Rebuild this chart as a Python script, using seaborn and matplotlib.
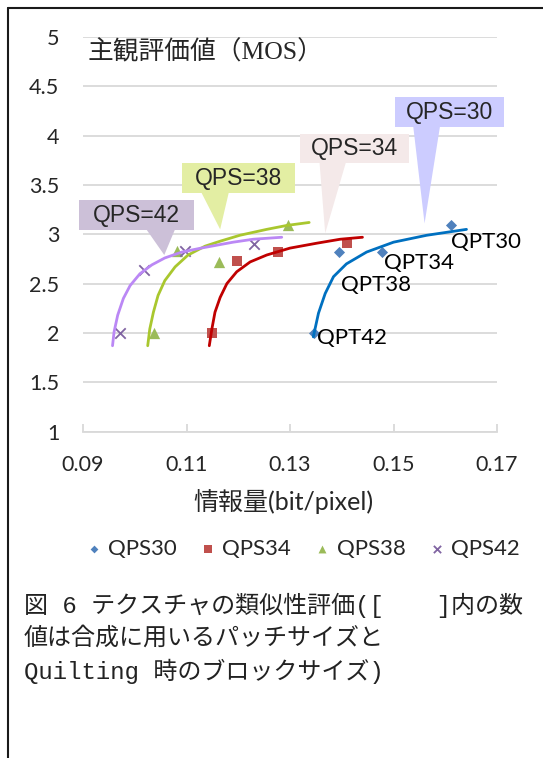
"""
Texture similarity: MOS vs. bit rate for four QPS settings.
"""
import numpy as np
import matplotlib
matplotlib.use('Agg')
import matplotlib.pyplot as plt
from matplotlib.lines import Line2D
from matplotlib.patches import Polygon, Rectangle
import seaborn as sns

# measured points (bit/pixel, MOS)
series = ['QPS30', 'QPS34', 'QPS38', 'QPS42']
qps30_x = [0.1346, 0.1395, 0.1477, 0.1611]
qps30_y = [2.00, 2.82, 2.82, 3.09]
qps34_x = [0.1149, 0.1197, 0.1277, 0.1410]
qps34_y = [2.00, 2.73, 2.82, 2.91]
qps38_x = [0.1037, 0.1081, 0.1163, 0.1296]
qps38_y = [2.00, 2.83, 2.72, 3.09]
qps42_x = [0.0972, 0.1017, 0.1098, 0.1231]
qps42_y = [2.00, 2.64, 2.83, 2.90]
qpt_labels = ['QPT42', 'QPT38', 'QPT34', 'QPT30']

# fitted curves
curve30_x = [0.1345, 0.1355, 0.1368, 0.1384, 0.1409, 0.1448, 0.1500, 0.1564, 0.1641]
curve30_y = [1.96, 2.20, 2.40, 2.57, 2.70, 2.82, 2.92, 2.99, 3.05]
curve34_x = [0.1144, 0.1149, 0.1155, 0.1165, 0.1178, 0.1197, 0.1223, 0.1255,
             0.1300, 0.1352, 0.1397, 0.1440]
curve34_y = [1.87, 2.04, 2.21, 2.36, 2.50, 2.62, 2.72, 2.79, 2.86, 2.91, 2.95, 2.97]
curve38_x = [0.1025, 0.1029, 0.1036, 0.1045, 0.1058, 0.1078, 0.1103, 0.1136,
             0.1165, 0.1203, 0.1255, 0.1294, 0.1337]
curve38_y = [1.87, 2.04, 2.21, 2.38, 2.53, 2.67, 2.79, 2.88, 2.93, 2.99, 3.05,
             3.09, 3.12]
curve42_x = [0.0957, 0.0960, 0.0967, 0.0978, 0.0991, 0.1010, 0.1033, 0.1058,
             0.1091, 0.1128, 0.1190, 0.1229, 0.1284]
curve42_y = [1.87, 2.01, 2.18, 2.35, 2.48, 2.60, 2.69, 2.76, 2.82, 2.86, 2.92,
             2.95, 2.97]

xticks = [0.09, 0.11, 0.13, 0.15, 0.17]
xtick_labels = ['0.09', '0.11', '0.13', '0.15', '0.17']
yticks = [1, 1.5, 2, 2.5, 3, 3.5, 4, 4.5, 5]
ytick_labels = ['1', '1.5', '2', '2.5', '3', '3.5', '4', '4.5', '5']

callout_texts = ['QPS=30', 'QPS=34', 'QPS=38', 'QPS=42']

title = '主観評価値（MOS）'
xlabel = '情報量(bit/pixel)'
caption = ['図 6 テクスチャの類似性評価([　  ]内の数',
           '値は合成に用いるパッチサイズと',
           'Quilting 時のブロックサイズ)']

# styles
marker_colors = ['#4f81bd', '#c0504d', '#9bbb59', '#8064a2']
line_colors = ['#0070c0', '#c00000', '#a9c72e', '#bb88f5']
markers = ['D', 's', '^', 'x']
marker_sizes = [32, 60, 66, 56]
callout_colors = ['#ccccff', '#f4e9e9', '#e3eea3', '#ccc0d8']
# box (x0, x1, y0, y1), wedge base (bx0, bx1), tip (tx, ty) in data units
callout_geom = [
    ((0.1503, 0.1714, 4.090, 4.388), (0.1538, 0.1590), (0.1560, 3.11)),
    ((0.1319, 0.1530, 3.719, 4.013), (0.1357, 0.1408), (0.1368, 3.01)),
    ((0.1092, 0.1310, 3.421, 3.719), (0.1128, 0.1182), (0.1165, 3.05)),
    ((0.0893, 0.1114, 3.043, 3.347), (0.1022, 0.1078), (0.1057, 2.79)),
]
qpt_offsets = [(2, -4), (1, -24), (2, -8), (0, -12)]
grid_color = '#d9d9d9'

sns.set_theme(style='white')
plt.rcParams['font.family'] = ['Lato', 'Noto Sans CJK JP', 'DejaVu Sans']

fig = plt.figure(figsize=(5.43, 7.58), dpi=100)
ax = fig.add_axes([0.1529, 0.4307, 0.7624, 0.5204])

xs = [qps30_x, qps34_x, qps38_x, qps42_x]
ys = [qps30_y, qps34_y, qps38_y, qps42_y]
cxs = [curve30_x, curve34_x, curve38_x, curve42_x]
cys = [curve30_y, curve34_y, curve38_y, curve42_y]

for i, name in enumerate(series):
    kw = dict(linewidth=1.3) if markers[i] == 'x' else dict(linewidth=0)
    sns.scatterplot(x=xs[i], y=ys[i], marker=markers[i], color=marker_colors[i],
                    s=marker_sizes[i], ax=ax, label=name, zorder=3, **kw)
    sns.lineplot(x=cxs[i], y=cys[i], color=line_colors[i], lw=2.0, ax=ax,
                 sort=False, estimator=None, legend=False, zorder=4)

# data labels of the QPS30 series
for lab, x, y, off in zip(qpt_labels, qps30_x, qps30_y, qpt_offsets):
    ax.annotate(lab, (x, y), xytext=off, textcoords='offset points',
                ha='left', va='center', fontsize=16, color='black', zorder=6)

# callouts
for txt, col, (box, base, tip) in zip(callout_texts, callout_colors, callout_geom):
    x0, x1, y0, y1 = box
    ax.add_patch(Rectangle((x0, y0), x1 - x0, y1 - y0, facecolor=col,
                           edgecolor='none', clip_on=False, zorder=5))
    ax.add_patch(Polygon([(base[0], y0 + 0.01), (base[1], y0 + 0.01), tip],
                         closed=True, facecolor=col, edgecolor='none',
                         clip_on=False, zorder=5))
    ax.text((x0 + x1) / 2, (y0 + y1) / 2, txt, ha='center', va='center',
            fontsize=16.5, family=['Liberation Sans'], zorder=6)

ax.set_xlim(0.09, 0.17)
ax.set_ylim(1, 5)
ax.set_xticks(xticks, xtick_labels)
ax.set_yticks(yticks, ytick_labels)
ax.yaxis.grid(True, color=grid_color, lw=1.3)
ax.set_axisbelow(True)
for side in ['left', 'right', 'top']:
    ax.spines[side].set_visible(False)
ax.spines['bottom'].set_color(grid_color)
ax.spines['bottom'].set_linewidth(1.3)
ax.tick_params(axis='y', length=0, pad=17, labelsize=15.5)
ax.tick_params(axis='x', direction='in', length=6, width=1.3, color=grid_color,
               pad=17, labelsize=15.5, bottom=True)

ax.set_xlabel(xlabel, fontsize=18, va='center')
ax.xaxis.set_label_coords(0.484, -0.178)

ax.legend(loc='center', bbox_to_anchor=(0.527, -0.298), ncol=4, frameon=False,
          fontsize=16, handletextpad=0.15, columnspacing=0.9, handlelength=1.0,
          markerscale=0.7, borderaxespad=0)

fig.text(88 / 543, 1 - 52.5 / 758, title, ha='left', va='center', fontsize=18.5,
         family=['Liberation Serif', 'Noto Sans CJK JP'])

for k, line in enumerate(caption):
    fig.text(24 / 543, 1 - (605 + 33 * k) / 758, line, ha='left', va='center',
             fontsize=17.3, color='#222222',
             family=['Liberation Mono', 'Noto Sans CJK JP'])

# frame around the figure (top and left edges)
fig.add_artist(Line2D([7.7 / 543, 1], [1 - 7.7 / 758] * 2, color='#1a1a1a', lw=1.5))
fig.add_artist(Line2D([7.7 / 543] * 2, [0, 1 - 7.7 / 758], color='#1a1a1a', lw=1.5))

fig.savefig('out.png', dpi=100)
